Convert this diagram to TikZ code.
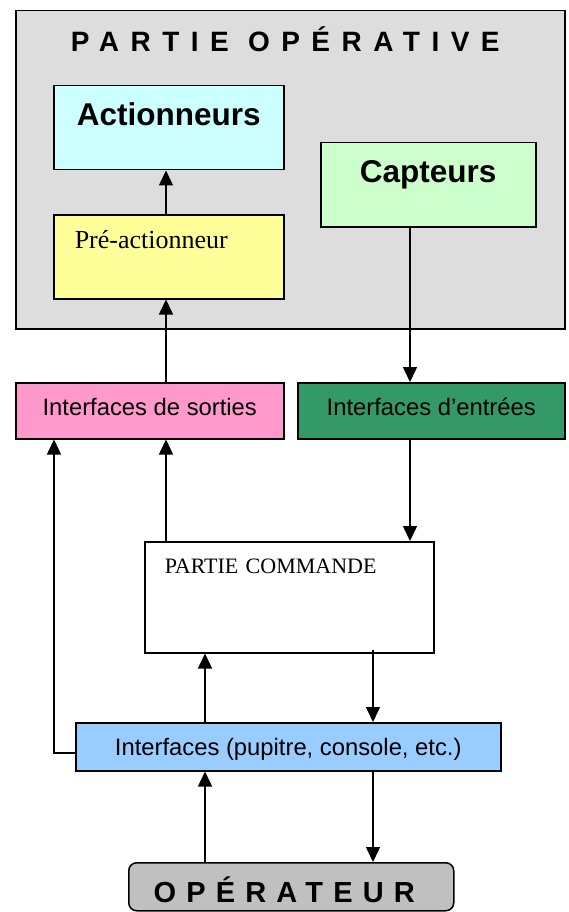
\documentclass[tikz,border=0pt]{standalone}
\usepackage{fontspec}
\setmainfont{Liberation Serif}
\setsansfont{Liberation Sans}
\usetikzlibrary{arrows.meta}
\definecolor{opgray}{HTML}{DDDDDD}
\definecolor{actcol}{HTML}{CCFFFF}
\definecolor{precol}{HTML}{FFFF99}
\definecolor{capcol}{HTML}{CCFFCC}
\definecolor{sorcol}{HTML}{FF99CC}
\definecolor{entcol}{HTML}{339966}
\definecolor{pupcol}{HTML}{99CCFF}
\definecolor{opecol}{HTML}{C0C0C0}
\begin{document}
\begin{tikzpicture}[x=1pt,y=-1pt,
  box/.style={draw=black, line width=1.5pt, rectangle, inner sep=0pt, anchor=north west},
  arr/.style={line width=1.5pt, -{Triangle[length=15pt,width=14pt]}},
  bigbold/.style={font=\sffamily\bfseries\fontsize{31.5}{31.5}\selectfont},
  armed/.style={font=\sffamily\fontsize{23.8}{23.8}\selectfont}]
\useasboundingbox (0,0) rectangle (568,912);
% columns and levels
\coordinate (xa) at (166,0);
\coordinate (xb) at (410,0);
\coordinate (xc) at (54,0);
\coordinate (xd) at (205,0);
\coordinate (xe) at (373,0);
\coordinate (yl) at (0,753);
% nodes
\node[box, fill=opgray, minimum width=549pt, minimum height=318pt, text height=41pt, text depth=277pt,
  font=\sffamily\bfseries\fontsize{28}{28}\selectfont] (po) at (15,10)
  {\hspace*{-10pt}\addfontfeature{LetterSpace=41}PARTIE OPÉRATIVE};
\node[box, fill=actcol, minimum width=230pt, minimum height=84pt, text height=40pt, text depth=44pt, bigbold]
  (act) at (53,85) {Actionneurs};
\node[box, fill=precol, minimum width=230pt, minimum height=84pt, text width=230pt, text height=34pt, text depth=50pt,
  align=left, font=\rmfamily\fontsize{26}{26}\selectfont] (pre) at (53,214) {\hspace*{21pt}Pré-actionneur};
\node[box, fill=capcol, minimum width=215pt, minimum height=84pt, text height=40pt, text depth=44pt, bigbold]
  (cap) at (320,142) {Capteurs};
\node[box, fill=sorcol, minimum width=268pt, minimum height=56pt, text height=33pt, text depth=23pt, armed]
  (sor) at (15,382) {Interfaces de sorties};
\node[box, fill=entcol, minimum width=267pt, minimum height=56pt, text height=33pt, text depth=23pt, armed]
  (ent) at (297,382) {Interfaces d’entrées};
\node[box, fill=white, minimum width=289pt, minimum height=111pt, text width=289pt, text height=32pt, text depth=79pt,
  align=left, font=\rmfamily\fontsize{22}{22}\selectfont] (pc) at (144,541) {\hspace*{20pt}PARTIE COMMANDE};
\node[box, fill=pupcol, minimum width=425pt, minimum height=48pt, text height=33pt, text depth=15pt, armed]
  (pup) at (75,722) {Interfaces (pupitre, console, etc.)};
\node[box, fill=opecol, rounded corners=8pt, minimum width=325pt, minimum height=48pt, text height=40pt, text depth=8pt,
  font=\sffamily\bfseries\fontsize{29}{29}\selectfont] (op) at (128,862)
  {\hspace*{-14pt}\addfontfeature{LetterSpace=35}OPÉRATEUR};
% connectors
\draw[arr] (pre.north -| xa) -- (act.south -| xa);
\draw[arr] (sor.north -| xa) -- (pre.south -| xa);
\draw[arr] (cap.south -| xb) -- (ent.north -| xb);
\draw[arr] (ent.south -| xb) -- (pc.north -| xb);
\draw[arr] (pc.north -| xa) -- (sor.south -| xa);
\draw[arr] (pup.west |- yl) -| (sor.south -| xc);
\draw[arr] (pup.north -| xd) -- (pc.south -| xd);
\draw[arr] ([yshift=4pt]pc.south -| xe) -- (pup.north -| xe);
\draw[arr] (op.north -| xd) -- (pup.south -| xd);
\draw[arr] (pup.south -| xe) -- (op.north -| xe);
\end{tikzpicture}
\end{document}
